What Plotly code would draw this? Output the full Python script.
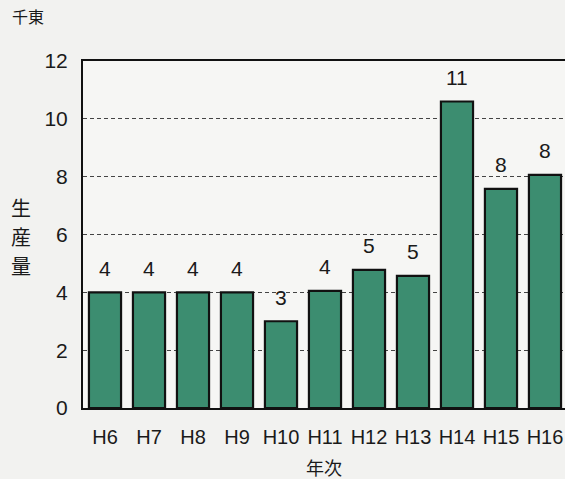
import plotly.graph_objects as go

categories = ["H6", "H7", "H8", "H9", "H10", "H11", "H12", "H13", "H14", "H15", "H16"]
values = [4.0, 4.0, 4.0, 4.0, 3.0, 4.05, 4.78, 4.57, 10.6, 7.58, 8.06]
labels = ["4", "4", "4", "4", "3", "4", "5", "5", "11", "8", "8"]
y_ticks = [0, 2, 4, 6, 8, 10, 12]
y_title_chars = ["生", "産", "量"]

NUM_FONT = "Liberation Sans Narrow, Liberation Sans, Arial"
CJK_FONT = "Noto Sans CJK JP"

fig = go.Figure()
fig.add_trace(go.Bar(
    x=categories, y=values,
    marker=dict(color="#3c8d70", line=dict(color="#111111", width=2.2)),
    width=0.73, hoverinfo="skip",
))
for c, v, t in zip(categories, values, labels):
    fig.add_annotation(x=c, y=v, text=t, showarrow=False,
                       yanchor="middle", yshift=24,
                       font=dict(size=21, family=NUM_FONT, color="#1a1a1a"))

fig.update_layout(
    width=565, height=479,
    margin=dict(l=83, r=0, t=61, b=71),
    paper_bgcolor="#f2f2f0", plot_bgcolor="#f6f6f4",
    showlegend=False,
    font=dict(family=NUM_FONT, color="#1a1a1a"),
)
fig.update_xaxes(
    range=[-0.5, 10.455], showgrid=False,
    showline=True, linecolor="#111111", linewidth=2, mirror=True,
    ticks="", tickfont=dict(size=20, family=NUM_FONT), ticklabelstandoff=10,
)
fig.update_yaxes(
    range=[0, 12], tickvals=y_ticks, showgrid=True,
    gridcolor="#444444", griddash="4px,3px", gridwidth=1,
    showline=True, linecolor="#111111", linewidth=2,
    ticks="", tickfont=dict(size=21, family=NUM_FONT), ticklabelstandoff=9,
    zeroline=False,
)
fig.add_annotation(text="千東", xref="paper", yref="paper", x=-0.152, y=1.13,
                   xanchor="left", yanchor="middle", showarrow=False,
                   font=dict(size=16, family=CJK_FONT))
for i, ch in enumerate(y_title_chars):
    fig.add_annotation(text=ch, xref="paper", yref="paper", x=-0.128,
                       y=0.578 - i * 0.0836,
                       xanchor="center", yanchor="middle", showarrow=False,
                       borderpad=0,
                       font=dict(size=20, family=CJK_FONT))
fig.add_annotation(text="年次", xref="paper", yref="paper", x=0.5, y=-0.17,
                   xanchor="center", yanchor="middle", showarrow=False,
                   font=dict(size=18, family=CJK_FONT))

fig.write_html("out.html", config={"displayModeBar": False},
               post_script="document.body.style.margin='0';")
